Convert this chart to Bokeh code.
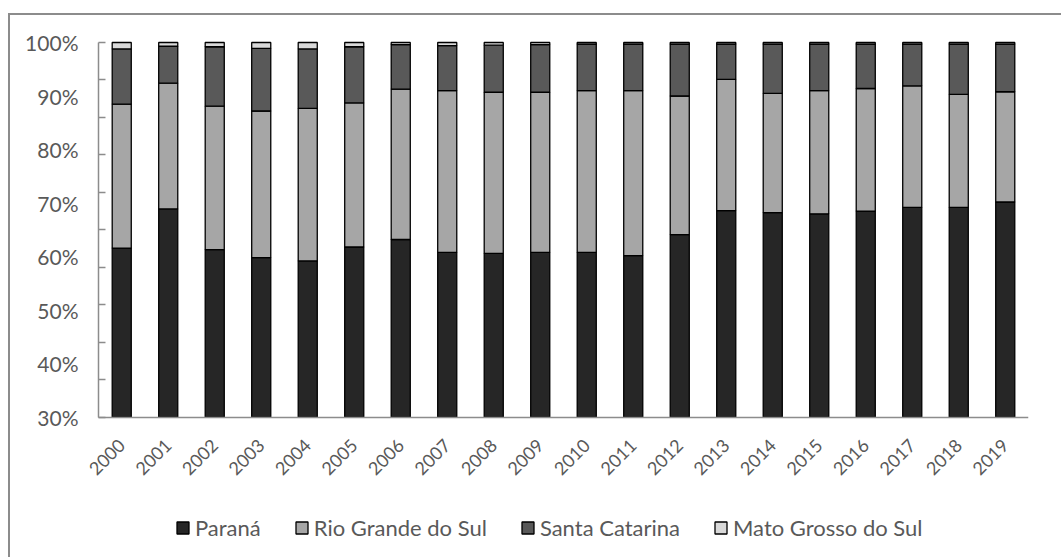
import numpy as np
from bokeh.plotting import figure
from bokeh.models import (Range1d, FixedTicker, PrintfTickFormatter, BasicTickFormatter,
                          Legend, LegendItem, ColumnDataSource)
from bokeh.embed import file_html
from bokeh.resources import INLINE
from math import pi

years = list(range(2000, 2020))
parana = [61.6, 68.9, 61.3, 59.8, 59.2, 61.8, 63.2, 60.8, 60.6, 60.8,
          60.8, 60.2, 64.1, 68.6, 68.2, 68.0, 68.5, 69.2, 69.2, 70.2]
rio_grande_do_sul = [26.9, 23.5, 26.8, 27.4, 28.5, 26.9, 28.1, 30.2, 30.1, 29.9,
                     30.2, 30.8, 25.9, 24.5, 22.3, 23.0, 22.9, 22.7, 21.1, 20.6]
santa_catarina = [10.3, 6.9, 11.1, 11.7, 11.1, 10.5, 8.3, 8.4, 8.8, 8.9,
                  8.7, 8.7, 9.7, 6.6, 9.2, 8.7, 8.3, 7.8, 9.4, 8.9]
mato_grosso_do_sul = [1.2, 0.7, 0.8, 1.1, 1.2, 0.8, 0.4, 0.6, 0.5, 0.4,
                      0.3, 0.3, 0.3, 0.3, 0.3, 0.3, 0.3, 0.3, 0.3, 0.3]
series_names = ["Paraná", "Rio Grande do Sul", "Santa Catarina", "Mato Grosso do Sul"]
series_values = [parana, rio_grande_do_sul, santa_catarina, mato_grosso_do_sul]
colors = ["#262626", "#a6a6a6", "#595959", "#d9d9d9"]
y_axis_min, y_axis_max = 30, 100
y_label_values = [30, 40, 50, 60, 70, 80, 90, 100]
y_tick_marks = [30, 37, 44, 51, 58, 65, 72, 79, 86, 93, 100]

FONT = "Lato"
TXT = "#595959"
AX = "#8c8c8c"

x_first = years[0] - 0.5
x_last = years[-1] + 0.5

# the frame covers the whole canvas except the right margin; the axes are
# pinned at the first year's edge and at the 30% baseline
p = figure(x_range=Range1d(1997.608, x_last), y_range=Range1d(3.42, 105.04),
           width=1053, height=544, output_backend="svg", toolbar_location=None,
           min_border_left=0, min_border_top=0, min_border_right=35,
           min_border_bottom=0)
p.styles = {"margin-left": "8px", "margin-top": "13px",
            "border-left": "2px solid #8c8c8c", "border-top": "2px solid #8c8c8c"}
p.outline_line_color = None
p.grid.grid_line_color = None

cum = np.cumsum(np.array(series_values), axis=0)
renderers = []
for i, (name, col) in enumerate(zip(series_names, colors)):
    top = cum[i]
    bottom = cum[i - 1] if i > 0 else np.zeros(len(years))
    bottom = np.maximum(bottom, y_axis_min)
    src = ColumnDataSource(dict(year=years, top=top, bottom=bottom))
    r = p.vbar(x="year", top="top", bottom="bottom", width=0.41, source=src,
               fill_color=col, line_color="black", line_width=1.3)
    renderers.append(r)

yax = p.yaxis[0]
yax.fixed_location = x_first
yax.bounds = (y_axis_min, y_axis_max)
yax.ticker = FixedTicker(ticks=y_label_values, minor_ticks=y_tick_marks)
yax.formatter = PrintfTickFormatter(format="%d%%")
yax.major_tick_line_color = None
yax.major_tick_in = 0
yax.major_tick_out = 0
yax.minor_tick_line_color = AX
yax.minor_tick_in = 7
yax.minor_tick_out = 0
yax.axis_line_color = AX
yax.axis_line_width = 1.5
yax.minor_tick_line_width = 1.5
yax.major_label_text_font = FONT
yax.major_label_text_font_size = "21px"
yax.major_label_text_color = TXT
yax.major_label_text_align = "left"
yax.major_label_standoff = 20

xax = p.xaxis[0]
xax.fixed_location = y_axis_min
xax.bounds = (x_first, x_last)
xax.ticker = FixedTicker(ticks=years)
xax.formatter = BasicTickFormatter(use_scientific=False)
xax.major_tick_line_color = None
xax.minor_tick_line_color = None
xax.axis_line_color = AX
xax.axis_line_width = 1.5
xax.major_label_orientation = pi / 4
xax.major_label_text_font = FONT
xax.major_label_text_font_size = "18px"
xax.major_label_text_color = TXT
xax.major_label_standoff = 19

items = [LegendItem(label=n, renderers=[r]) for n, r in zip(series_names, renderers)]
legend = Legend(items=items, location=(165, 18), orientation="horizontal",
                glyph_width=15, glyph_height=15, label_standoff=5, spacing=33,
                padding=0, margin=0, border_line_color=None,
                background_fill_alpha=0,
                label_text_font=FONT, label_text_font_size="22px",
                label_text_color=TXT)
p.add_layout(legend)

open("out.html", "w").write(file_html(p, INLINE))
